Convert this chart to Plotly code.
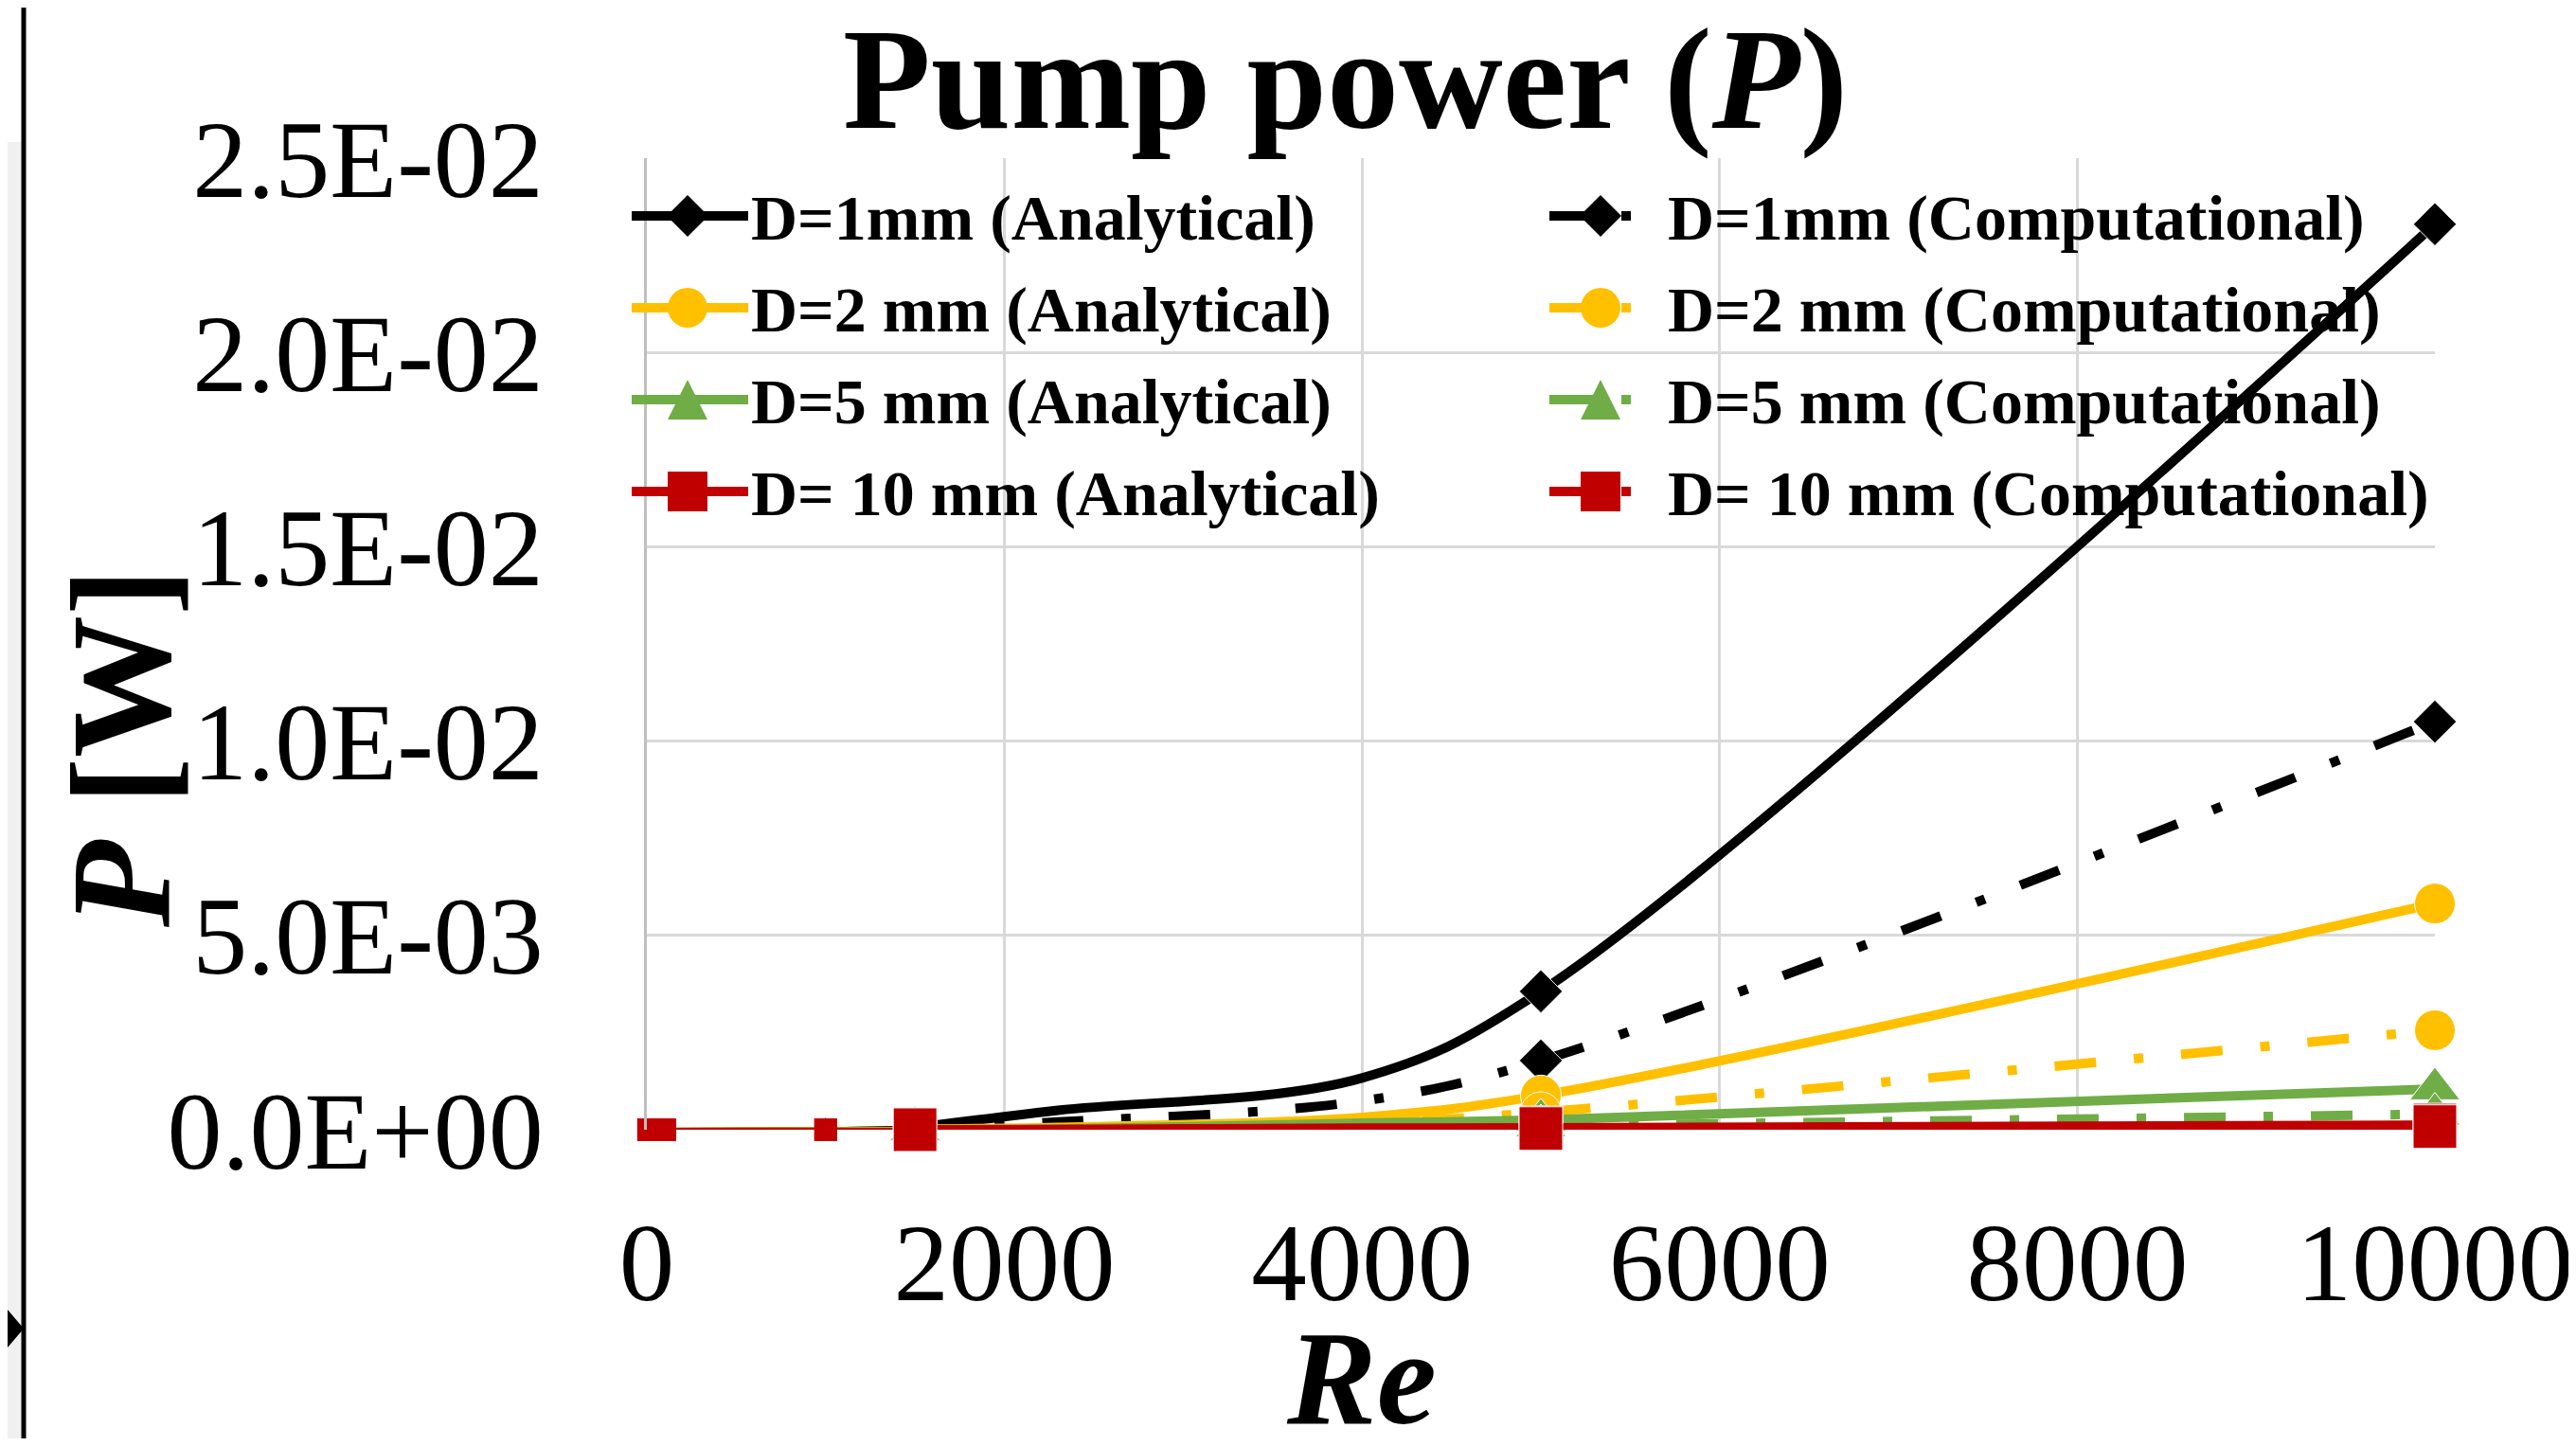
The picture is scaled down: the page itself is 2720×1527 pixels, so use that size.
import plotly.graph_objects as go

# ---------------- data ----------------
re_laminar = [10, 100, 1000, 1500]
re_turbulent = [1500, 2300, 4000, 5000, 10000]
turbulent_marker_shown = [1, 0, 0, 1, 1]   # 2300 and 4000 points have no marker

d1_analytical_lam = [0.0, 1e-6, 2e-5, 5e-5]
d1_analytical = [5e-5, 0.50e-3, 1.33e-3, 3.56e-3, 23.3e-3]
d1_computational_lam = [0.0, 1e-6, 2e-5, 5e-5]
d1_computational = [5e-5, 0.20e-3, 0.74e-3, 1.78e-3, 10.5e-3]

d2_analytical_lam = [0.0, 0.0, 5e-6, 2e-5]
d2_analytical = [2e-5, 0.06e-3, 0.32e-3, 0.88e-3, 5.82e-3]
d2_computational_lam = [0.0, 0.0, 5e-6, 2e-5]
d2_computational = [2e-5, 0.03e-3, 0.16e-3, 0.45e-3, 2.56e-3]

d5_analytical_lam = [0.0, 0.0, 1e-6, 5e-6]
d5_analytical = [5e-6, 0.02e-3, 0.17e-3, 0.25e-3, 1.05e-3]
d5_computational_lam = [0.0, 0.0, 1e-6, 5e-6]
d5_computational = [5e-6, 0.01e-3, 0.07e-3, 0.10e-3, 0.40e-3]

d10_analytical_lam = [0.0, 0.0, 0.0, 1e-6]
d10_analytical = [1e-6, 0.005e-3, 0.04e-3, 0.05e-3, 0.12e-3]
d10_computational_lam = [0.0, 0.0, 0.0, 1e-6]
d10_computational = [1e-6, 0.003e-3, 0.02e-3, 0.03e-3, 0.08e-3]

labels_analytical = ["D=1mm (Analytical)", "D=2 mm (Analytical)",
                     "D=5 mm (Analytical)", "D= 10 mm (Analytical)"]
labels_computational = ["D=1mm (Computational)", "D=2 mm (Computational)",
                        "D=5 mm (Computational)", "D= 10 mm (Computational)"]

x_tick_vals = [0, 2000, 4000, 6000, 8000, 10000]
x_tick_text = ["0", "2000", "4000", "6000", "8000", "10000"]
y_tick_vals = [0.0, 0.005, 0.010, 0.015, 0.020, 0.025]
y_tick_text = ["0.0E+00", "5.0E-03", "1.0E-02", "1.5E-02", "2.0E-02", "2.5E-02"]

# ---------------- styling ----------------
OFF = 8                      # default body margin of the page
W, H = 2720 - 2 * OFF, 1527 - 2 * OFF
L, R, T, B = 683, 2571, 167, 1193   # plot area in window pixels
FONT = "Liberation Serif"

def px_x(px):
    return (px - L) / (R - L)

def px_y(py):
    return (B - py) / (B - T)

colors = ["#000000", "#FFC000", "#70AD47", "#C00000"]
symbols = ["diamond", "circle", "triangle-up", "square"]
big_sizes = [35, 43, 46, 46]
small_sizes = [18, 22, 20, 24]
LW = 10

analytical_lam = [d1_analytical_lam, d2_analytical_lam, d5_analytical_lam, d10_analytical_lam]
analytical = [d1_analytical, d2_analytical, d5_analytical, d10_analytical]
computational_lam = [d1_computational_lam, d2_computational_lam, d5_computational_lam, d10_computational_lam]
computational = [d1_computational, d2_computational, d5_computational, d10_computational]

fig = go.Figure()

# laminar (thin) parts first
for i in range(4):
    for yl in (analytical_lam[i], computational_lam[i]):
        fig.add_trace(go.Scatter(
            x=re_laminar, y=yl, mode="lines+markers", showlegend=False,
            line=dict(color=colors[i], width=4),
            marker=dict(symbol=symbols[i], size=small_sizes[i], color=colors[i], opacity=1),
            cliponaxis=False, hoverinfo="skip"))

dashdot = "44px,40px,10px,40px"
for i in range(4):
    msize = [big_sizes[i] * s for s in turbulent_marker_shown]
    fig.add_trace(go.Scatter(
        x=re_turbulent, y=analytical[i], mode="lines+markers", name=labels_analytical[i],
        line=dict(color=colors[i], width=LW, shape="spline"),
        marker=dict(symbol=symbols[i], size=msize, color=colors[i], opacity=1),
        cliponaxis=False, showlegend=False))
    fig.add_trace(go.Scatter(
        x=re_turbulent, y=computational[i], mode="lines+markers", name=labels_computational[i],
        line=dict(color=colors[i], width=LW, shape="spline", dash=dashdot),
        marker=dict(symbol=symbols[i], size=msize, color=colors[i], opacity=1),
        cliponaxis=False, showlegend=False))

fig.update_layout(
    width=W, height=H,
    margin=dict(l=L - OFF, r=W - (R - OFF), t=T - OFF, b=H - (B - OFF), pad=0, autoexpand=False),
    paper_bgcolor="white", plot_bgcolor="white",
    showlegend=False,
    font=dict(family=FONT, color="black"),
)

fig.update_xaxes(
    range=[0, 10000], tickvals=x_tick_vals, ticktext=x_tick_text,
    showgrid=True, gridcolor="#d9d9d9", gridwidth=3,
    zeroline=False, showline=False, ticks="", automargin=False,
    ticklabeloverflow="allow",
    tickfont=dict(family=FONT, size=117, color="black"),
    ticklabelstandoff=62)
fig.update_yaxes(
    range=[0, 0.025], tickvals=y_tick_vals, ticktext=y_tick_text,
    showgrid=True, gridcolor="#d9d9d9", gridwidth=3,
    zeroline=False, showline=True, linecolor="#bfbfbf", linewidth=3, ticks="",
    automargin=False, ticklabeloverflow="allow",
    tickfont=dict(family=FONT, size=116, color="black"),
    ticklabelstandoff=83)

# ---------------- legend (drawn as shapes + text) ----------------
legend_rows_y = [228, 325, 422, 519]
col_line = [(667, 790), (1636, 1731)]
col_marker_x = [726, 1690]
col_text_x = [791, 1759]
col_labels = [labels_analytical, labels_computational]
MK = 21  # half marker size in px

def marker_shape(sym, cx, cy, color):
    if sym == "circle":
        return dict(type="circle", xref="paper", yref="paper",
                    x0=px_x(cx - MK), x1=px_x(cx + MK), y0=px_y(cy + MK), y1=px_y(cy - MK),
                    fillcolor=color, line_width=0)
    if sym == "square":
        return dict(type="rect", xref="paper", yref="paper",
                    x0=px_x(cx - MK), x1=px_x(cx + MK), y0=px_y(cy + MK), y1=px_y(cy - MK),
                    fillcolor=color, line_width=0)
    if sym == "diamond":
        pts = [(cx, cy - MK - 1), (cx + MK + 1, cy), (cx, cy + MK + 1), (cx - MK - 1, cy)]
    else:  # triangle-up
        pts = [(cx, cy - MK), (cx + MK, cy + MK), (cx - MK, cy + MK)]
    path = "M " + " L ".join(f"{px_x(a):.5f},{px_y(b):.5f}" for a, b in pts) + " Z"
    return dict(type="path", xref="paper", yref="paper", path=path,
                fillcolor=color, line_width=0)

for c in range(2):
    for i in range(4):
        cy = legend_rows_y[i]
        x0, x1 = col_line[c]
        fig.add_shape(type="line", xref="paper", yref="paper",
                      x0=px_x(x0), x1=px_x(x1), y0=px_y(cy), y1=px_y(cy),
                      line=dict(color=colors[i], width=LW,
                                dash="solid" if c == 0 else "52px,24px,10px,200px"))
        fig.add_shape(**marker_shape(symbols[i], col_marker_x[c], cy, colors[i]))
        fig.add_annotation(text=col_labels[c][i], xref="paper", yref="paper",
                           x=px_x(col_text_x[c]), y=px_y(cy + 2), xanchor="left", yanchor="middle",
                           showarrow=False,
                           font=dict(family=FONT, size=68, color="black", weight="bold"))

# ---------------- titles ----------------
fig.add_annotation(text="<b>Pump power (<i>P</i>)</b>", xref="paper", yref="paper",
                   x=px_x(1420), y=px_y(84), xanchor="center", yanchor="middle",
                   showarrow=False, font=dict(family=FONT, size=152, color="black"))
fig.add_annotation(text="<b><i>Re</i></b>", xref="paper", yref="paper",
                   x=px_x(1437), y=px_y(1455), xanchor="center", yanchor="middle",
                   showarrow=False, font=dict(family=FONT, size=142, color="black"))
fig.add_annotation(text="<b><i>P</i> [W]</b>", xref="paper", yref="paper",
                   x=px_x(128), y=px_y(790), xanchor="center", yanchor="middle",
                   textangle=-90, showarrow=False,
                   font=dict(family=FONT, size=150, color="black"))

# ---------------- left-edge fragment of neighbouring panel ----------------
fig.add_shape(type="rect", xref="paper", yref="paper", x0=px_x(OFF), x1=px_x(23),
              y0=px_y(1527), y1=px_y(150), fillcolor="#f0f0f0", line_width=0, layer="below")
fig.add_shape(type="line", xref="paper", yref="paper", x0=px_x(25), x1=px_x(25),
              y0=px_y(1527), y1=px_y(OFF), line=dict(color="black", width=5))
fig.add_shape(type="path", xref="paper", yref="paper",
              path=f"M {px_x(OFF)},{px_y(1383)} L {px_x(25)},{px_y(1403)} L {px_x(OFF)},{px_y(1423)} Z",
              fillcolor="black", line_width=0)

fig.write_html("out.html")
